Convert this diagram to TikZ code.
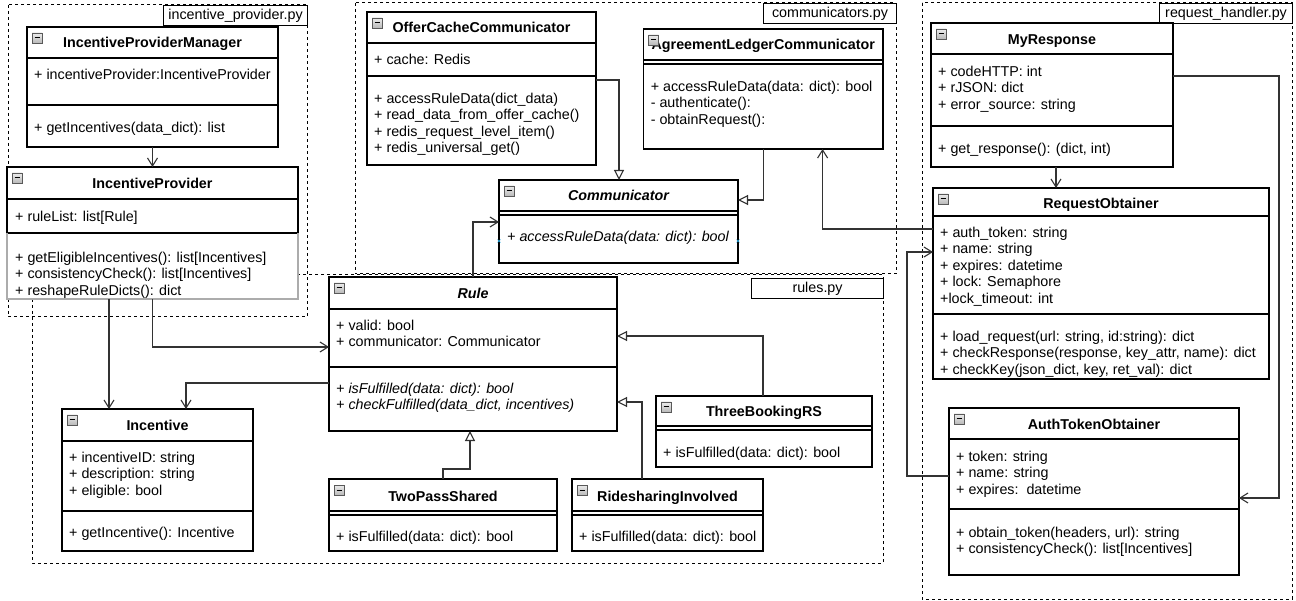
\documentclass[tikz,border=0pt]{standalone}
\usepackage{fontspec}
\setmainfont{Liberation Sans}
\usetikzlibrary{arrows.meta}

\definecolor{linegray}{HTML}{333333}
\definecolor{markblue}{HTML}{29A8E0}

% first-line strut: fixes the top of a member block 12pt above its first baseline
\newcommand\fl{\rule{0pt}{12pt}}

% class box: name, x, y, width, height, title, title baseline offset
\newcommand\umlclass[7]{%
  \node[cls, minimum width=#4pt, minimum height=#5pt] (#1) at (#2,#3) {};
  \node[ttl, anchor=base] (#1-title) at ([yshift=-#7pt]#1.north) {#6};
  \draw[collapseicon] ([shift={(5pt,-6pt)}]#1.north west) rectangle ++(10,10);
  \draw[line width=1pt] ([shift={(7.5pt,-11pt)}]#1.north west) -- ++(5,0);
}
% compartment divider at a given depth below the top edge
\newcommand\cdiv[2]{\draw[divline] ([yshift=-#2pt]#1.north west) -- ([yshift=-#2pt]#1.north east);}
% member block: name, class, dx, dy, lines
\newcommand\members[5]{\node[mem] (#1) at ([shift={(#3pt,-#4pt)}]#2.north west) {\fl #5};}

\begin{document}
\begin{tikzpicture}[x=1pt,y=-1pt,
  cls/.style={draw=black, fill=white, line width=1.1pt, anchor=north west, inner sep=0pt, outer sep=0pt},
  ttl/.style={font=\fontsize{14.3}{16}\selectfont\bfseries, inner sep=0pt},
  mem/.style={anchor=north west, align=left, inner sep=0pt, font=\fontsize{14.3}{16.6}\selectfont},
  divline/.style={draw=black, line width=1.1pt},
  pkgframe/.style={draw=black, line width=1pt, dash pattern=on 3pt off 3pt},
  pkglabel/.style={draw=black, fill=white, line width=1.1pt, anchor=north west, inner sep=0pt, font=\fontsize{14.3}{16}\selectfont},
  collapseicon/.style={draw=gray!70!black, line width=0.6pt, top color=gray!15, bottom color=gray!55},
  assoc/.style={draw=linegray, line width=1.1pt, -{Straight Barb[length=8pt,width=10pt]}},
  inherit/.style={draw=linegray, line width=1.1pt, -{Triangle[length=10pt,width=10pt,fill=white]}},
]
\useasboundingbox (0,0) rectangle (1296,601);

% ---------- package frames ----------
\draw[pkgframe] (8,5) rectangle (307,317);
\draw[pkgframe] (355,3) rectangle (896,274);
\draw[pkgframe] (922,3) rectangle (1292,599);
\draw[pkgframe] (32,275) rectangle (883,563);

\node[pkglabel, minimum width=144pt, minimum height=20pt] (lbl-ip) at (163,5) {incentive\_provider.py};
\node[pkglabel, minimum width=133pt, minimum height=20pt] (lbl-comm) at (763,3) {communicators.py};
\node[pkglabel, minimum width=133pt, minimum height=20pt] (lbl-req) at (1159,3) {request\_handler.py};
\node[pkglabel, minimum width=132pt, minimum height=20pt] (lbl-rules) at (751,278) {rules.py};

% ---------- incentive_provider.py ----------
\umlclass{ipm}{27}{27}{251}{120}{IncentiveProviderManager}{21}
\cdiv{ipm}{31}\cdiv{ipm}{78}
\members{ipm-attr}{ipm}{7}{40}{+ incentiveProvider:IncentiveProvider}
\members{ipm-ops}{ipm}{7}{93}{+ getIncentives(data\_dict): list}

\umlclass{ip}{7}{167}{291}{132}{IncentiveProvider}{22}
\cdiv{ip}{32}\cdiv{ip}{66}
\draw[gray!65, line width=1.1pt] ([yshift=-66pt]ip.north west) -- (ip.south west) -- (ip.south east) -- ([yshift=-66pt]ip.north east);
\members{ip-attr}{ip}{8}{42}{+ ruleList: list[Rule]}
\members{ip-ops}{ip}{8}{83}{+ getEligibleIncentives(): list[Incentives]\\+ consistencyCheck(): list[Incentives]\\+ reshapeRuleDicts(): dict}

% ---------- rules.py ----------
\umlclass{inc}{62}{409}{191}{142}{Incentive}{22}
\cdiv{inc}{32}\cdiv{inc}{102}
\members{inc-attr}{inc}{7}{41}{+ incentiveID: string\\+ description: string\\+ eligible: bool}
\members{inc-ops}{inc}{7}{116}{+ getIncentive(): Incentive}

\umlclass{rule}{329}{277}{288}{154}{\itshape Rule}{22}
\cdiv{rule}{32}\cdiv{rule}{90}
\members{rule-attr}{rule}{7}{41}{+ valid: bool\\+ communicator: Communicator}
\members{rule-ops}{rule}{7}{104}{\itshape + isFulfilled(data: dict): bool\\\itshape + checkFulfilled(data\_dict, incentives)}

\umlclass{tp}{329}{479}{228}{72}{TwoPassShared}{22}
\cdiv{tp}{32}\cdiv{tp}{36}
\members{tp-ops}{tp}{7}{50}{+ isFulfilled(data: dict): bool}

\umlclass{rs}{572}{479}{191}{72}{RidesharingInvolved}{22}
\cdiv{rs}{32}\cdiv{rs}{36}
\members{rs-ops}{rs}{7}{50}{+ isFulfilled(data: dict): bool}

\umlclass{tb}{656}{396}{216}{71}{ThreeBookingRS}{21}
\cdiv{tb}{30}\cdiv{tb}{34}
\members{tb-ops}{tb}{7}{49}{+ isFulfilled(data: dict): bool}

% ---------- communicators.py ----------
\umlclass{occ}{367}{12}{229}{153}{OfferCacheCommunicator}{21}
\cdiv{occ}{31}\cdiv{occ}{64}
\members{occ-attr}{occ}{7}{40}{+ cache: Redis}
\members{occ-ops}{occ}{7}{79}{+ accessRuleData(dict\_data)\\+ read\_data\_from\_offer\_cache()\\+ redis\_request\_level\_item()\\+ redis\_universal\_get()}

\umlclass{alc}{643.6}{29}{239.4}{120}{AgreementLedgerCommunicator}{21}
\cdiv{alc}{31}\cdiv{alc}{35}
\members{alc-ops}{alc}{7}{50}{+ accessRuleData(data: dict): bool\\- authenticate():\\- obtainRequest():}

\umlclass{comm}{499}{180}{239}{83}{\itshape Communicator}{21}
\cdiv{comm}{31}\cdiv{comm}{35}
\members{comm-ops}{comm}{8}{49}{\itshape + accessRuleData(data: dict): bool}

% ---------- request_handler.py ----------
\umlclass{mr}{931}{23}{242}{144}{MyResponse}{22}
\cdiv{mr}{31}\cdiv{mr}{103}
\members{mr-attr}{mr}{7}{41}{+ codeHTTP: int\\+ rJSON: dict\\+ error\_source: string}
\members{mr-ops}{mr}{7}{118}{+ get\_response(): (dict, int)}

\umlclass{ro}{933}{188}{336}{191}{RequestObtainer}{21}
\cdiv{ro}{28}\cdiv{ro}{126}
\members{ro-attr}{ro}{7}{37}{+ auth\_token: string\\+ name: string\\+ expires: datetime\\+ lock: Semaphore\\+lock\_timeout: int}
\members{ro-ops}{ro}{7}{141}{+ load\_request(url: string, id:string): dict\\+ checkResponse(response, key\_attr, name): dict\\+ checkKey(json\_dict, key, ret\_val): dict}

\umlclass{ato}{949}{408}{290}{167}{AuthTokenObtainer}{21}
\cdiv{ato}{31}\cdiv{ato}{101}
\members{ato-attr}{ato}{7}{41}{+ token: string\\+ name: string\\+ expires:\ \ datetime}
\members{ato-ops}{ato}{7}{117}{+ obtain\_token(headers, url): string\\+ consistencyCheck(): list[Incentives]}

% ---------- connection ports ----------
\coordinate (ip-p1)   at ([xshift=102pt]ip.south west);
\coordinate (inc-p1)  at ([xshift=47pt]inc.north west);
\coordinate (rule-p1) at ([yshift=-70pt]rule.north west);
\coordinate (rule-p2) at ([yshift=-106pt]rule.north west);
\coordinate (inc-p2)  at ([xshift=124pt]inc.north west);
\coordinate (rule-p3) at ([xshift=144pt]rule.north west);
\coordinate (comm-p1) at ([yshift=-42pt]comm.north west);
\coordinate (occ-p1)  at ([yshift=-68pt]occ.north east);
\coordinate (comm-p2) at ([xshift=120pt]comm.north west);
\coordinate (alc-p1)  at ([xshift=120pt]alc.south west);
\coordinate (comm-p3) at ([yshift=-20pt]comm.north east);
\coordinate (ro-p1)   at ([yshift=-41pt]ro.north west);
\coordinate (alc-p2)  at ([xshift=179pt]alc.south west);
\coordinate (mr-p1)   at ([xshift=125pt]mr.south west);
\coordinate (ro-p2)   at ([xshift=123pt]ro.north west);
\coordinate (mr-p2)   at ([yshift=-53pt]mr.north east);
\coordinate (ato-p1)  at ([yshift=-90pt]ato.north east);
\coordinate (ato-p2)  at ([yshift=-68pt]ato.north west);
\coordinate (ro-p3)   at ([yshift=-64pt]ro.north west);
\coordinate (tb-p1)   at ([xshift=107pt]tb.north west);
\coordinate (rule-p4) at ([yshift=-59pt]rule.north east);
\coordinate (rs-p1)   at ([xshift=70pt]rs.north west);
\coordinate (rule-p5) at ([yshift=-125pt]rule.north east);
\coordinate (tp-p1)   at ([xshift=114pt]tp.north west);
\coordinate (rule-p6) at ([xshift=141pt]rule.south west);

% ---------- associations ----------
\draw[assoc] (ipm.south) -- (ip.north);
\draw[assoc] (ip-p1) -- (inc-p1);
\draw[assoc] (ip.south) |- (rule-p1);
\draw[assoc] (rule-p2) -| (inc-p2);
\draw[assoc] (rule-p3) |- (comm-p1);
\draw[assoc] (ro-p1) -| (alc-p2);
\draw[assoc] (mr-p1) -- (ro-p2);
\draw[assoc] (mr-p2) -- ++(106,0) |- (ato-p1);
\draw[assoc] (ato-p2) -- ++(-42,0) |- (ro-p3);

% ---------- generalisations ----------
\draw[inherit] (occ-p1) -| (comm-p2);
\draw[inherit] (alc-p1) |- (comm-p3);
\draw[inherit] (tb-p1) |- (rule-p4);
\draw[inherit] (rs-p1) |- (rule-p5);
\draw[inherit] (tp-p1) -- ++(0,-10) -| (rule-p6);

% connection-point markers on the abstract communicator
\draw[draw=markblue, line width=0.6pt] ([yshift=-61pt]comm.north west) ++(-1.5,-1.5) -- ++(3,3) ++(0,-3) -- ++(-3,3);
\draw[draw=markblue, line width=0.6pt] ([yshift=-61pt]comm.north east) ++(-1.5,-1.5) -- ++(3,3) ++(0,-3) -- ++(-3,3);
\end{tikzpicture}
\end{document}
